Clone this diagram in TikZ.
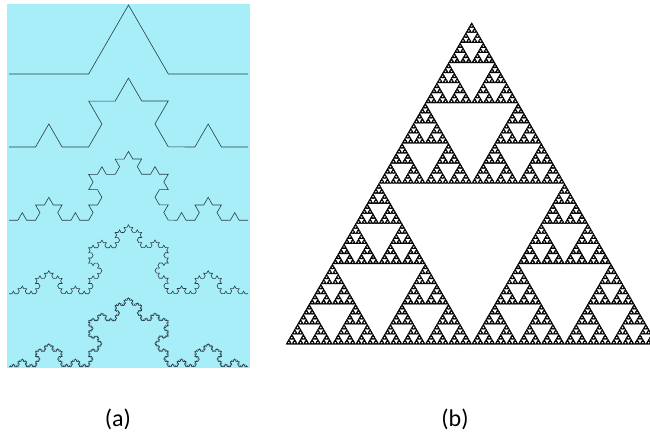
\documentclass[tikz,border=0pt]{standalone}
\usepackage{fontspec}
\setmainfont{Carlito}
\usetikzlibrary{decorations.fractals}
\definecolor{panelcyan}{RGB}{168,238,248}
\definecolor{kochline}{RGB}{40,60,70}
\newcommand\sierptri[4]{%
  \ifnum#1=0
    \filldraw[black,line width=0.35pt,line join=miter] (#2,#3) -- ++(#4,0) -- ++({-#4/2},{-#4*0.8660254}) -- cycle;
  \else
    \begingroup
    \edef\SX{#2}\edef\SY{#3}\edef\SS{#4}%
    \pgfmathsetmacro\SH{\SS/2}%
    \pgfmathsetmacro\SXR{\SX+\SH}%
    \pgfmathsetmacro\SXM{\SX+\SH/2}%
    \pgfmathsetmacro\SYM{\SY-\SH*0.8660254}%
    \pgfmathtruncatemacro\SL{#1-1}%
    \sierptri{\SL}{\SX}{\SY}{\SH}%
    \sierptri{\SL}{\SXR}{\SY}{\SH}%
    \sierptri{\SL}{\SXM}{\SYM}{\SH}%
    \endgroup
  \fi}
\begin{document}
\begin{tikzpicture}[x=1pt,y=-1pt,
  koch/.style={draw=kochline,line width=0.6pt,decoration=Koch snowflake},
  caption/.style={font=\fontsize{24}{28}\selectfont,inner sep=0pt}]
\useasboundingbox (0,0) rectangle (650,438);
\begin{scope}
\clip (0,0) rectangle (650,438);
% panel (a)
\fill[panelcyan] (7,4) rectangle (250,368);
\path[koch] decorate{ (9,74) -- (248,74) };
\path[koch] decorate{ decorate{ (9,147) -- (248,147) } };
\path[koch] decorate{ decorate{ decorate{ (9,220.3) -- (248,220.3) } } };
\path[koch] decorate{ decorate{ decorate{ decorate{ (9,293.7) -- (248,293.7) } } } };
\path[koch] decorate{ decorate{ decorate{ decorate{ decorate{ (9,366.7) -- (248,366.7) } } } } };
% panel (b)
\sierptri{7}{286}{344.3}{371.4}
\end{scope}
\node[caption] (capa) at (118,419) {(a)};
\node[caption] (capb) at (455,419) {(b)};
\end{tikzpicture}
\end{document}
